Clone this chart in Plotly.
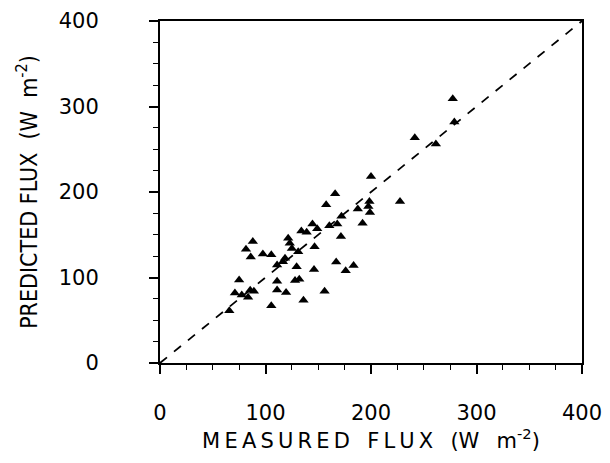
import plotly.graph_objects as go

measured = [65.7, 71, 75, 77.5, 83.5, 85.5, 89, 81.5, 86, 88, 97.5, 105.5, 105.5, 111, 111, 111,
            116.5, 118.5, 119.5, 121.5, 123, 125, 128, 131, 132, 129.5, 134, 139, 136, 144.5,
            146.5, 146, 149, 156, 157.5, 160.5, 166, 167, 168, 171.5, 172, 176, 183.5, 187.5,
            192, 198.5, 197.5, 199, 200, 227.5, 241.5, 261.5, 277.5, 279]
predicted = [61, 82, 97, 79.5, 77, 85, 84, 133, 124, 142, 127.5, 126.5, 67, 114.5, 95.5, 85.5,
             118.5, 122.5, 82.5, 146, 140, 134, 96.5, 130, 98, 112.5, 154.5, 153, 73.5, 162.5,
             136, 109.5, 157, 84, 185, 160.5, 198, 118, 162.5, 148, 171.5, 108, 114, 180,
             163.5, 189, 183, 176, 218, 189, 263.5, 256, 309, 282]
one_to_one = [0, 400]
ticks = [0, 100, 200, 300, 400]

fig = go.Figure()
fig.add_trace(go.Scatter(x=one_to_one, y=one_to_one, mode="lines",
                         line=dict(color="black", width=1.8, dash="dash"), showlegend=False))
fig.add_trace(go.Scatter(x=measured, y=predicted, mode="markers",
                         marker=dict(symbol="triangle-up", size=9, color="black"), showlegend=False))

axis_common = dict(range=[0, 400], tickvals=ticks, ticks="outside", ticklen=9, tickwidth=1.5,
                   tickcolor="black", showline=True, linecolor="black", linewidth=2, mirror=True,
                   showgrid=False, zeroline=False, automargin=False,
                   minor=dict(dtick=25, ticks="outside", ticklen=5, tickwidth=1.2, tickcolor="black"),
                   tickfont=dict(family="DejaVu Sans", size=21, color="black"))

fig.update_xaxes(**axis_common,
                 title=dict(text="M\u2009E\u2009A\u2009S\u2009U\u2009R\u2009E\u2009D\u2002 F\u2009L\u2009U\u2009X\u2002 (W\u2002 m<sup>-2</sup>)",
                            font=dict(family="DejaVu Sans", size=21, color="black"), standoff=4),
                 ticklabelstandoff=21)
fig.update_yaxes(**axis_common,
                 title=dict(text="PREDICTED FLUX  (W  m<sup>-2</sup>)",
                            font=dict(family="Liberation Sans Narrow, DejaVu Sans Condensed", size=23, color="black"),
                            standoff=15),
                 ticklabelstandoff=46)

# page body adds an 8px margin, so the figure is sized to fit the 610x463 window
fig.update_layout(width=602, height=455, margin=dict(l=152, r=28, t=13, b=100),
                  plot_bgcolor="white", paper_bgcolor="white")
fig.write_html("out.html")
